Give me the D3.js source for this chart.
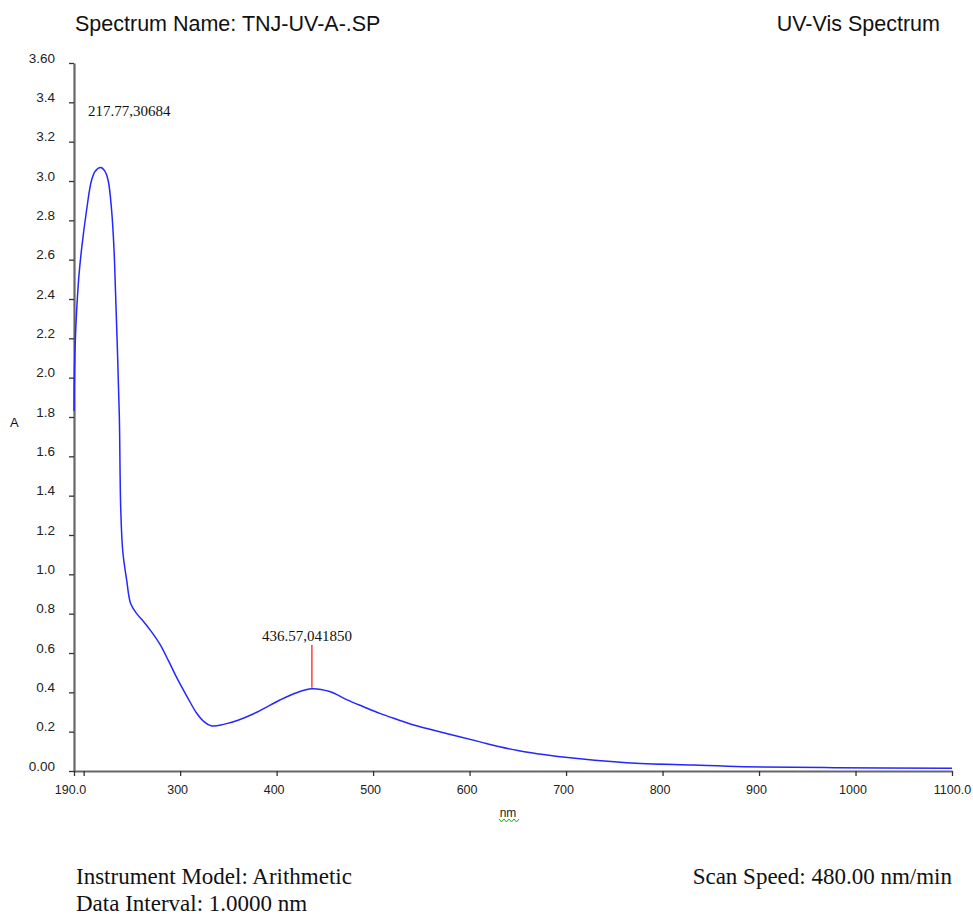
<!DOCTYPE html>
<html>
<head>
<meta charset="utf-8">
<script src="https://cdn.jsdelivr.net/npm/d3@7"></script>
<style>
  body { margin: 0; background: #fff; }
  svg { display: block; }
</style>
</head>
<body>
<div id="chart"></div>
<script>
// wavelength (nm) and absorbance
var wavelength = [190, 191, 194.5, 198, 203, 208, 212, 217.77, 222, 225.5, 229, 231.5, 233, 235, 237,
  238.4, 240.5, 244.6, 248.8, 255, 262, 270, 279, 288, 296.5, 307, 317, 325, 332.7, 345, 360, 380,
  403.5, 420, 436.57, 455, 472.6, 490, 507, 525, 542, 576, 611, 630, 650, 670, 694, 763, 832, 884, 979, 1100];
var absorbance = [1.83, 2.14, 2.48, 2.66, 2.85, 3.00, 3.05, 3.0684, 3.05, 3.00, 2.85, 2.65, 2.44, 2.14, 1.80,
  1.34, 1.12, 0.97, 0.85, 0.80, 0.76, 0.71, 0.645, 0.56, 0.475, 0.38, 0.295, 0.25, 0.229, 0.237, 0.258, 0.30,
  0.361, 0.397, 0.4185, 0.404, 0.363, 0.327, 0.293, 0.262, 0.234, 0.191, 0.148, 0.125, 0.104, 0.088, 0.072, 0.042, 0.03, 0.022, 0.017, 0.014];

var yTicks = [0, 0.2, 0.4, 0.6, 0.8, 1.0, 1.2, 1.4, 1.6, 1.8, 2.0, 2.2, 2.4, 2.6, 2.8, 3.0, 3.2, 3.4, 3.6];
var xTicks = [190, 200, 300, 400, 500, 600, 700, 800, 900, 1000, 1100];

var peaks = [
  {nm: 217.77, a: 3.0684, label: "217.77,30684", marker: false},
  {nm: 436.57, a: 0.41850, label: "436.57,041850", marker: true}
];

var W = 973, H = 915;
var svg = d3.select("#chart").append("svg")
    .attr("width", W)
    .attr("height", H);

var x = d3.scaleLinear().domain([190, 1100]).range([74, 952]);
var y = d3.scaleLinear().domain([0, 3.6]).range([771, 63]);

var sans = "Liberation Sans, Arial, sans-serif";
var serif = "Liberation Serif, Times New Roman, serif";

// header
svg.append("text")
    .attr("x", 75).attr("y", 31)
    .style("font-family", sans)
    .style("font-size", "21.5px")
    .style("fill", "#111")
    .text("Spectrum Name: TNJ-UV-A-.SP");
svg.append("text")
    .attr("x", 940).attr("y", 31)
    .attr("text-anchor", "end")
    .style("font-family", sans)
    .style("font-size", "21.5px")
    .style("fill", "#111")
    .text("UV-Vis Spectrum");

// y axis
var yAxis = svg.append("g")
    .attr("transform", "translate(" + x(190) + ",0)")
    .call(d3.axisLeft(y).tickValues(yTicks).tickSize(5).tickSizeOuter(0).tickPadding(14)
      .tickFormat(function(d) { return (d === 0 || d === 3.6) ? d.toFixed(2) : d.toFixed(1); }));
yAxis.select(".domain").style("stroke", "#666").style("stroke-width", 2.2);
yAxis.selectAll(".tick line").style("stroke", "#333").style("stroke-width", 1.3);
yAxis.selectAll(".tick text")
    .attr("dy", "-0.05em")
    .style("font-family", sans)
    .style("font-size", "13.5px")
    .style("fill", "#222");

// x axis
var xAxis = svg.append("g")
    .attr("transform", "translate(0," + y(0) + ")")
    .call(d3.axisBottom(x).tickValues(xTicks).tickSize(5).tickSizeOuter(0).tickPadding(9)
      .tickFormat(function(d) {
        if (d === 190) return "190.0";
        if (d === 200) return "";
        if (d === 1100) return "1100.0";
        return d3.format("d")(d);
      }));
xAxis.select(".domain").style("stroke", "#666").style("stroke-width", 2.2);
xAxis.selectAll(".tick line").style("stroke", "#333").style("stroke-width", 1.3);
xAxis.selectAll(".tick text")
    .attr("dx", function(d) { return d === 190 ? -4 : (d === 1100 ? 0 : -3); })
    .style("font-family", sans)
    .style("font-size", "12.5px")
    .style("fill", "#222");

// axis titles
svg.append("text")
    .attr("x", 10).attr("y", 427)
    .style("font-family", sans)
    .style("font-size", "13px")
    .style("fill", "#111")
    .text("A");
svg.append("text")
    .attr("x", 508).attr("y", 817)
    .attr("text-anchor", "middle")
    .style("font-family", sans)
    .style("font-size", "12px")
    .style("fill", "#222")
    .text("nm");
// spell-check squiggle under "nm"
var sq = [];
for (var i = 0; i <= 8; i++) sq.push([499 + i * 2.5, i % 2 ? 822 : 819]);
svg.append("path")
    .attr("d", d3.line()(sq))
    .style("fill", "none")
    .style("stroke", "#2a2")
    .style("stroke-width", 1);

// spectrum
var pts = wavelength.map(function(w, i) { return [w, absorbance[i]]; });
var line = d3.line()
    .x(function(d) { return x(d[0]); })
    .y(function(d) { return y(d[1]); })
    .curve(d3.curveCatmullRom.alpha(0.5));
svg.append("path")
    .datum(pts)
    .attr("d", line)
    .style("fill", "none")
    .style("stroke", "#2626ff")
    .style("stroke-width", 1.5);

// peak annotations
peaks.forEach(function(p) {
  if (p.marker) {
    svg.append("line")
        .attr("x1", x(p.nm)).attr("x2", x(p.nm))
        .attr("y1", y(p.a) - 1).attr("y2", y(p.a) - 44)
        .style("stroke", "#f22")
        .style("stroke-width", 1.3);
    svg.append("text")
        .attr("x", x(p.nm) - 5).attr("y", y(p.a) - 48)
        .attr("text-anchor", "middle")
        .style("font-family", serif)
        .style("font-size", "15px")
        .style("fill", "#111")
        .text(p.label);
  } else {
    svg.append("text")
        .attr("x", 88).attr("y", 116)
        .style("font-family", serif)
        .style("font-size", "15px")
        .style("fill", "#111")
        .text(p.label);
  }
});

// footer
svg.append("text").attr("x", 76).attr("y", 884)
    .style("font-family", serif).style("font-size", "23px").style("fill", "#111")
    .text("Instrument Model: Arithmetic");
svg.append("text").attr("x", 76).attr("y", 911)
    .style("font-family", serif).style("font-size", "23px").style("fill", "#111")
    .text("Data Interval: 1.0000 nm");
svg.append("text").attr("x", 952).attr("y", 884)
    .attr("text-anchor", "end")
    .style("font-family", serif).style("font-size", "23px").style("fill", "#111")
    .text("Scan Speed: 480.00 nm/min");
</script>
</body>
</html>
